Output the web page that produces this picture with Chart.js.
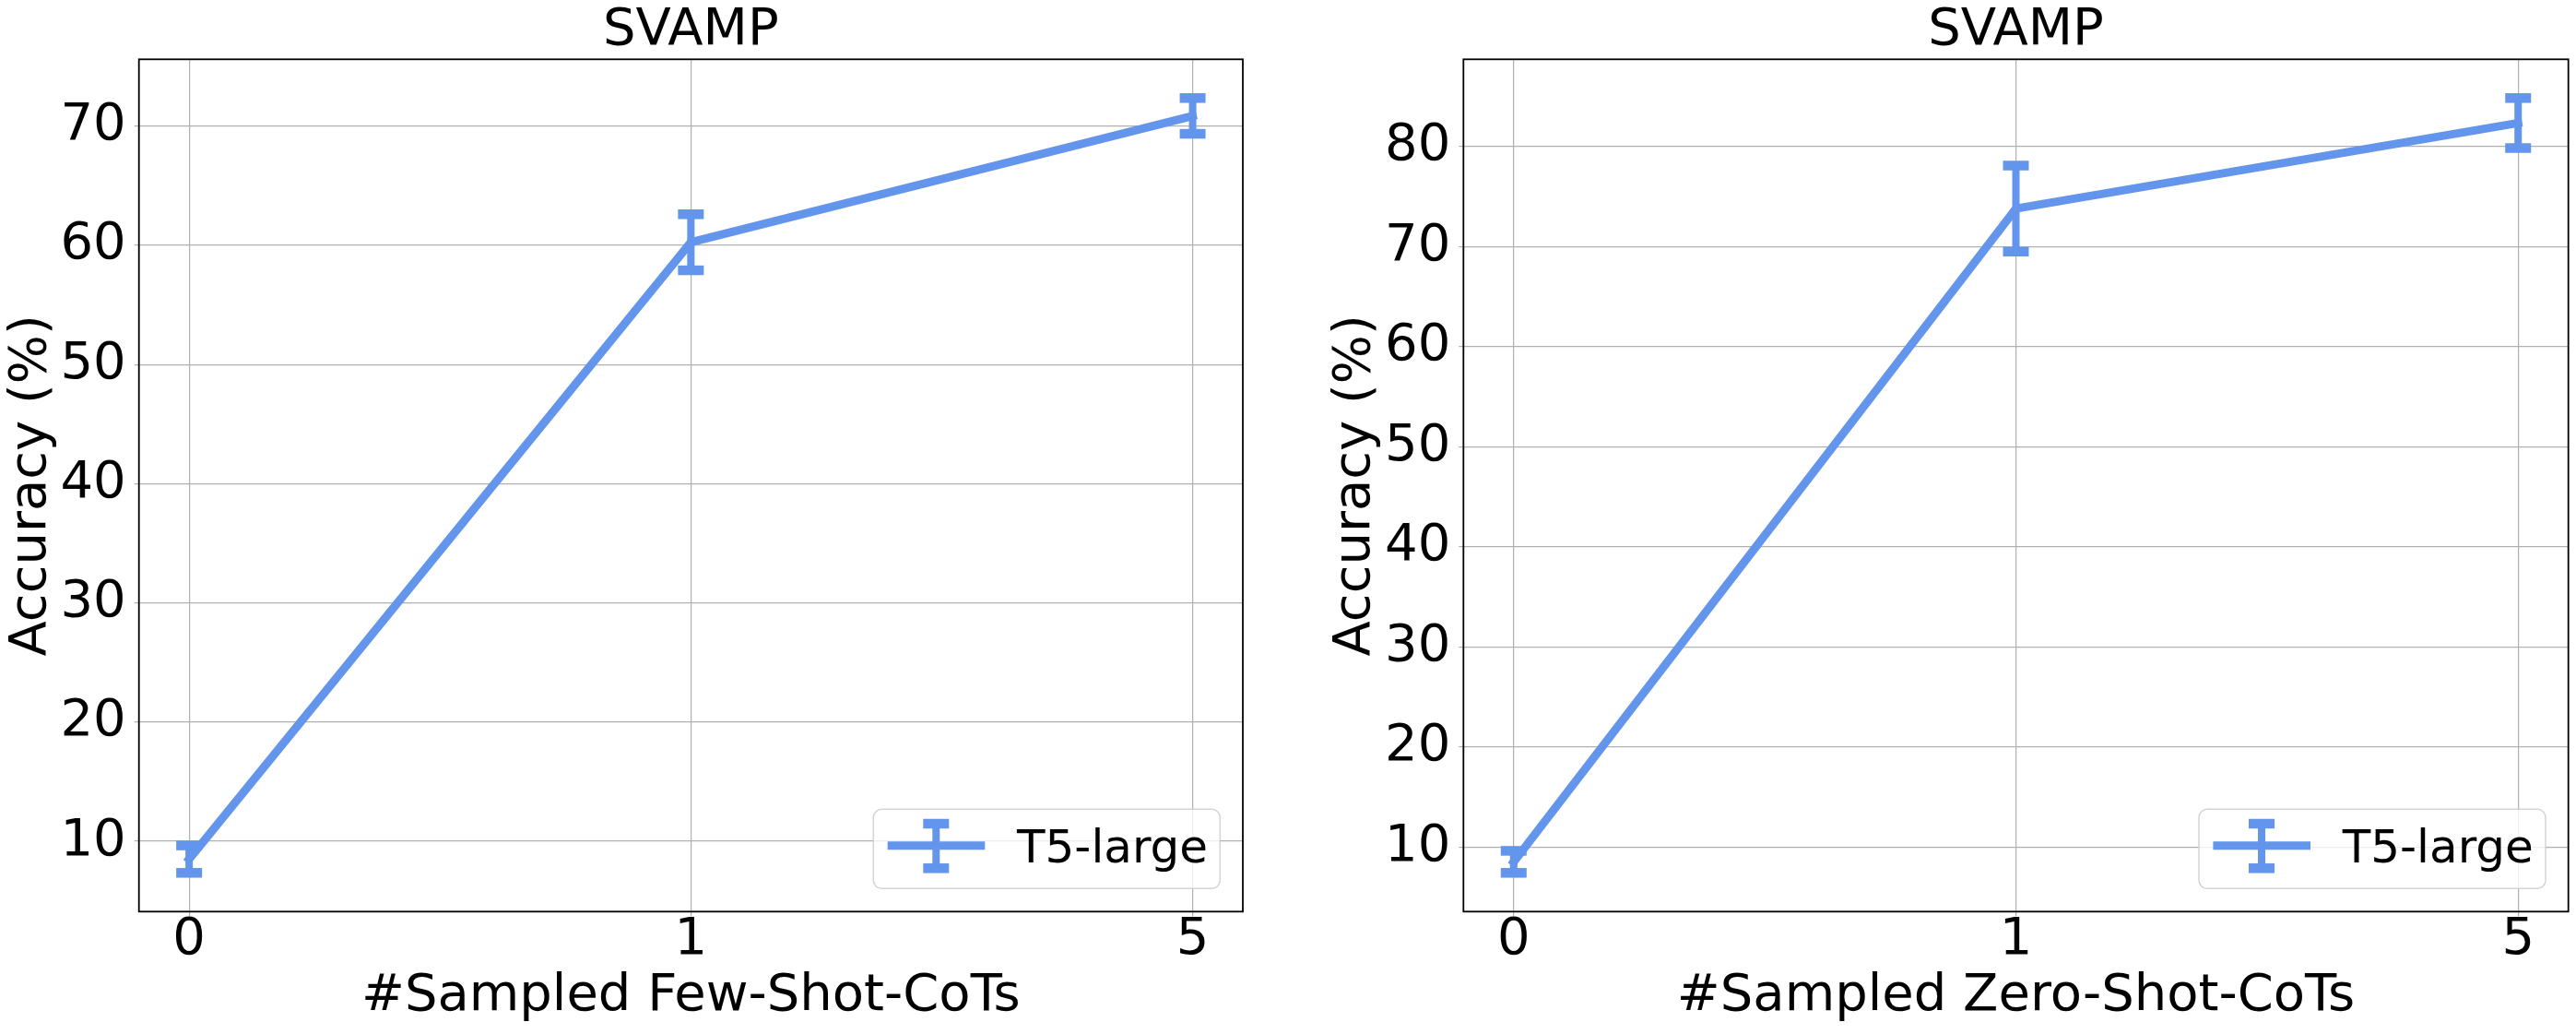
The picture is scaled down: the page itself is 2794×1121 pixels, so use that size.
<!DOCTYPE html>
<html>
<head>
<meta charset="utf-8">
<script src="https://cdn.jsdelivr.net/npm/chart.js@4.4.3/dist/chart.umd.min.js"></script>
<style>
  html, body { margin: 0; padding: 0; background: #fff; }
  #wrap { position: relative; width: 2794px; height: 1121px; }
  canvas { position: absolute; top: 0; }
</style>
</head>
<body>
<div id="wrap">
  <canvas id="few" width="1397" height="1121" style="left:0"></canvas>
  <canvas id="zero" width="1397" height="1121" style="left:1397px"></canvas>
</div>
<script>
// Number of sampled CoTs (x categories)
const steps = ['0', '1', '5'];

// Accuracy (%) and error (+/-)
const fewShotAcc = [8.5, 60.25, 70.85];
const fewShotErr = [1.15, 2.35, 1.5];
const zeroShotAcc = [8.5, 73.8, 82.35];
const zeroShotErr = [1.1, 4.3, 2.5];

// y tick labels
const fewShotTicks = [10, 20, 30, 40, 50, 60, 70];
const zeroShotTicks = [10, 20, 30, 40, 50, 60, 70, 80];

const seriesLabel = 'T5-large';
const BLUE = '#6495ED';
const GRID = '#b0b0b0';

Chart.defaults.font.family = "'DejaVu Sans', sans-serif";
Chart.defaults.color = '#000';

// Error bars drawn through the chart scales.
const errorBars = {
  id: 'errorBars',
  afterDatasetsDraw(chart, args, opts) {
    const { ctx, scales: { x, y } } = chart;
    ctx.save();
    ctx.strokeStyle = opts.color;
    ctx.lineCap = 'butt';
    chart.data.datasets.forEach((ds, di) => {
      const err = opts.errors[di];
      ds.data.forEach((p, i) => {
        const px = x.getPixelForValue(p.x);
        const top = y.getPixelForValue(p.y + err[i]);
        const bot = y.getPixelForValue(p.y - err[i]);
        ctx.lineWidth = opts.barWidth;
        ctx.beginPath();
        ctx.moveTo(px, top);
        ctx.lineTo(px, bot);
        ctx.stroke();
        ctx.lineWidth = opts.capThickness;
        [top, bot].forEach(cy => {
          ctx.beginPath();
          ctx.moveTo(px - opts.capSize / 2, cy);
          ctx.lineTo(px + opts.capSize / 2, cy);
          ctx.stroke();
        });
      });
    });
    ctx.restore();
  }
};

// Black box round the plot area.
const frame = {
  id: 'frame',
  afterDraw(chart) {
    const { ctx, chartArea: a } = chart;
    ctx.save();
    ctx.strokeStyle = '#000';
    ctx.lineWidth = 1.8;
    ctx.strokeRect(a.left, a.top, a.right - a.left, a.bottom - a.top);
    ctx.restore();
  }
};

// Matplotlib style legend with an errorbar handle, lower right.
const boxLegend = {
  id: 'boxLegend',
  afterDraw(chart, args, opts) {
    const { ctx, chartArea: a } = chart;
    const w = 376, h = 86;
    const left = a.right - 24.7 - w;
    const top = a.bottom - 25 - h;
    ctx.save();
    ctx.beginPath();
    ctx.roundRect(left, top, w, h, 9);
    ctx.fillStyle = 'rgba(255,255,255,0.8)';
    ctx.fill();
    ctx.strokeStyle = 'rgba(204,204,204,0.85)';
    ctx.lineWidth = 1.5;
    ctx.stroke();

    const cy = top + 39.4;
    const bx = left + 68;
    ctx.strokeStyle = BLUE;
    ctx.lineWidth = 9;
    ctx.beginPath();
    ctx.moveTo(left + 15.4, cy);
    ctx.lineTo(left + 121, cy);
    ctx.stroke();
    ctx.lineWidth = 8;
    ctx.beginPath();
    ctx.moveTo(bx, top + 15.7);
    ctx.lineTo(bx, top + 64);
    ctx.stroke();
    ctx.lineWidth = 10.5;
    [top + 15.7, top + 64].forEach(y => {
      ctx.beginPath();
      ctx.moveTo(bx - 14, y);
      ctx.lineTo(bx + 14, y);
      ctx.stroke();
    });

    ctx.fillStyle = '#000';
    ctx.font = "50px 'DejaVu Sans'";
    ctx.textBaseline = 'alphabetic';
    ctx.textAlign = 'left';
    ctx.fillText(opts.text, left + 155.7, top + 57.7);
    ctx.restore();
  }
};

// Same autoscale rule as matplotlib: data range plus 5% margin.
function autoRange(acc, err) {
  const lo = Math.min(...acc.map((v, i) => v - err[i]));
  const hi = Math.max(...acc.map((v, i) => v + err[i]));
  const pad = (hi - lo) * 0.05;
  return [lo - pad, hi + pad];
}

function makeChart(id, acc, err, yTicks, xTitle, padLeft, padRight) {

  const [ymin, ymax] = autoRange(acc, err);

  return new Chart(document.getElementById(id), {
    type: 'line',
    data: {
      datasets: [{
        label: seriesLabel,
        data: acc.map((v, i) => ({ x: i, y: v })),
        borderColor: BLUE,
        backgroundColor: BLUE,
        borderWidth: 9,
        borderCapStyle: 'square',
        borderJoinStyle: 'round',
        pointRadius: 0,
        tension: 0,
        fill: false
      }]
    },
    options: {
      responsive: false,
      animation: false,
      devicePixelRatio: 1,
      layout: { padding: { left: padLeft, right: padRight, top: 0, bottom: 0 } },
      scales: {
        x: {
          type: 'linear',
          min: -0.1,
          max: 2.1,
          afterBuildTicks: s => { s.ticks = steps.map((_, i) => ({ value: i })); },
          afterFit: s => { s.height = 132.7; },
          ticks: {
            callback: v => steps[v],
            font: { size: 56, lineHeight: 0.8 },
            padding: 3.3,
            maxRotation: 0,
            autoSkip: false
          },
          grid: { color: GRID, lineWidth: 1.2, tickLength: 5 },
          border: { display: false },
          title: {
            display: true,
            text: xTitle,
            font: { size: 56 },
            padding: { top: 0, bottom: 7.4 }
          }
        },
        y: {
          type: 'linear',
          min: ymin,
          max: ymax,
          afterBuildTicks: s => { s.ticks = yTicks.map(v => ({ value: v })); },
          afterFit: s => { s.width = 150.7; },
          ticks: { font: { size: 56 }, padding: 9 },
          grid: { color: GRID, lineWidth: 1.2, tickLength: 5 },
          border: { display: false },
          title: {
            display: true,
            text: 'Accuracy (%)',
            font: { size: 56 },
            padding: { top: 0.5, bottom: 0 }
          }
        }
      },
      plugins: {
        legend: { display: false },
        tooltip: { enabled: false },
        title: {
          display: true,
          text: 'SVAMP',
          fullSize: false,
          color: '#000',
          font: { size: 56, weight: 'normal', lineHeight: 1 },
          padding: { top: 5.5, bottom: 2.8 }
        },
        errorBars: { errors: [err], color: BLUE, barWidth: 8, capThickness: 10.5, capSize: 28 },
        boxLegend: { text: seriesLabel }
      }
    },
    plugins: [errorBars, frame, boxLegend]
  });
}

makeChart('few', fewShotAcc, fewShotErr, fewShotTicks, '#Sampled Few-Shot-CoTs', 0, 49);
makeChart('zero', zeroShotAcc, zeroShotErr, zeroShotTicks, '#Sampled Zero-Shot-CoTs', 39.6, 8.3);
</script>
</body>
</html>
